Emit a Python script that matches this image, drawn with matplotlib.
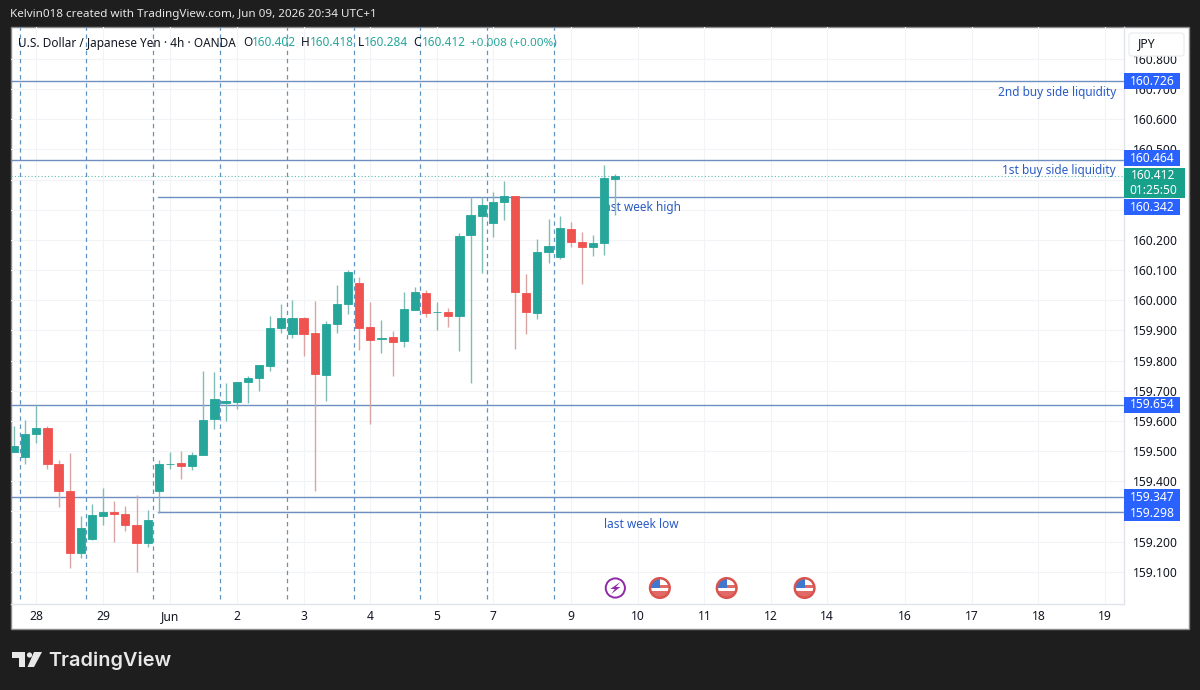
import matplotlib
matplotlib.use("Agg")
import matplotlib.pyplot as plt
from matplotlib.patches import Rectangle, FancyBboxPatch, Polygon, Circle

# ---------- data ----------
opens = [159.497,159.482,159.556,159.577,159.456,159.369,159.163,159.210,159.286,159.299,159.293,159.256,159.196,
         159.366,159.456,159.459,159.450,159.486,159.605,159.661,159.662,159.728,159.742,159.782,159.908,159.888,
         159.941,159.891,159.752,159.921,159.988,160.058,159.911,159.871,159.878,159.865,159.968,160.024,159.960,
         159.961,159.948,160.217,160.281,160.257,160.327,160.347,160.024,159.958,160.161,160.144,160.237,160.194,
         160.177,160.191,160.402]
highs = [159.582,159.602,159.652,159.582,159.472,159.492,159.286,159.323,159.379,159.333,159.319,159.356,159.303,
         159.469,159.496,159.499,159.496,159.765,159.762,159.725,159.728,159.748,159.785,159.948,159.988,160.001,
         159.945,159.998,159.931,160.051,160.101,160.078,159.995,159.935,159.898,160.028,160.044,160.034,159.995,
         159.975,160.224,160.344,160.344,160.360,160.394,160.347,160.088,160.204,160.271,160.281,160.261,160.227,
         160.217,160.450,160.418]
lows = [159.496,159.456,159.526,159.442,159.313,159.113,159.146,159.206,159.256,159.200,159.236,159.100,159.183,
        159.296,159.442,159.406,159.436,159.486,159.572,159.599,159.639,159.659,159.698,159.765,159.891,159.875,
        159.815,159.366,159.665,159.891,159.955,159.835,159.589,159.825,159.748,159.845,159.968,159.945,159.901,
        159.911,159.832,159.725,160.091,160.211,160.267,159.838,159.888,159.938,160.124,160.138,160.177,160.054,
        160.148,160.151,160.284]
closes = [159.516,159.556,159.577,159.456,159.369,159.163,159.244,159.289,159.299,159.293,159.256,159.196,159.270,
          159.456,159.458,159.450,159.487,159.602,159.672,159.665,159.728,159.742,159.785,159.908,159.941,159.941,
          159.888,159.755,159.921,159.988,160.094,159.908,159.868,159.875,159.862,159.971,160.028,159.958,159.961,
          159.948,160.214,160.284,160.317,160.327,160.347,160.028,159.961,160.161,160.181,160.241,160.194,160.177,
          160.191,160.407,160.412]
first_bar = -2
price_ticks = [160.8,160.7,160.6,160.5,160.4,160.3,160.2,160.1,160.0,159.9,159.8,159.7,159.6,159.5,159.4,159.3,159.2,159.1]
hidden_ticks = [160.4,160.3,159.3]
date_pos = [0,6,12,18,24,30,36,41,48,54,60,66,71,78,84,90,96]
date_labels = ["28","29","Jun","2","3","4","5","7","9","10","11","12","14","16","17","18","19"]
session_lines = [-1.5,4.5,10.5,16.5,22.5,28.5,34.5,40.5,46.5]
full_levels = [160.726,160.464,159.654,159.347]
week_levels = [160.342,159.298]
week_start = 10.95
level_labels = [160.726,160.464,160.342,159.654,159.347,159.298]
label_shift = [0,2,-10,0,0,-1]
last_price = 160.412
flag_events = [56,62,69]
bolt_event = 52

GREEN, RED = "#26a69a", "#ef5350"
BLUE = "#2962ff"
LINE = "#6f8fc0"
plt.rcParams["font.family"] = ["Noto Sans", "DejaVu Sans"]

fig = plt.figure(figsize=(12, 6.9), dpi=100, facecolor="#1e1e1e")
ax = fig.add_axes([11/1200, 1-604/690, 1113/1200, 577/690], zorder=2)
ov = fig.add_axes([0, 0, 1, 1], zorder=3)
bg = fig.add_axes([0, 0, 1, 1], zorder=1)
for a in (ov, bg):
    a.set_xlim(0, 1200); a.set_ylim(690, 0); a.axis("off")
ov.patch.set_alpha(0)
bg.add_patch(Rectangle((10.5, 27), 1178.5, 602, fc="white", ec="#8a8a8a", lw=1))

# ---------- main axes ----------
BAR_PX = 11.135
ax.set_xlim((11-36.3)/BAR_PX, (1124-36.3)/BAR_PX)
ax.set_ylim(158.993, 160.906)
ax.patch.set_alpha(0)
for s in ("top", "left"):
    ax.spines[s].set_visible(False)
for s in ("bottom", "right"):
    ax.spines[s].set_color("#e0e3eb"); ax.spines[s].set_linewidth(1)
ax.yaxis.tick_right()
ax.set_yticks(price_ticks, ["" if p in hidden_ticks else f"{p:.3f}" for p in price_ticks])
ax.set_xticks(date_pos, date_labels)
ax.tick_params(axis="y", length=0, pad=6.3, labelsize=8.7, labelcolor="#131722")
ax.tick_params(axis="x", length=0, pad=4.5, labelsize=8.7, labelcolor="#131722")
ax.get_xticklabels()[2].set_fontweight("bold")
ax.grid(True, color="#f1f3f6", lw=0.8)
ax.set_axisbelow(True)

for x in session_lines:
    ax.axvline(x, ymin=0.008, ymax=1, color="#5f93c4", lw=0.9, ls=(0, (3.5, 3)), zorder=1.5)
for lv in full_levels:
    ax.axhline(lv, color=LINE, lw=1, zorder=1.8)
for lv in week_levels:
    ax.plot([week_start, ax.get_xlim()[1]], [lv, lv], color=LINE, lw=1, zorder=1.8)
ax.axhline(last_price, color="#5dbdb3", lw=0.8, ls=(0, (1, 2)), zorder=1.8)

label_c = "#2a5bc4"
ax.text(96.96, 160.690, "2nd buy side liquidity", color=label_c, fontsize=8.5, ha="right", va="center", zorder=2)
ax.text(96.96, 160.430, "1st buy side liquidity", color=label_c, fontsize=8.5, ha="right", va="center", zorder=2)
ax.text(54.3, 160.307, "last week high", color=label_c, fontsize=8.5, ha="center", va="center", zorder=2)
ax.text(54.3, 159.256, "last week low", color=label_c, fontsize=8.5, ha="center", va="center", zorder=2)

# ---------- candles ----------
for k, (o, h, l, c) in enumerate(zip(opens, highs, lows, closes)):
    i = first_bar + k
    col = GREEN if c >= o else RED
    wick = "#7fbdb6" if c >= o else "#d9a5a2"
    ax.vlines(i, l, h, color=wick, lw=1.0, zorder=3)
    ax.bar(i, abs(c-o), bottom=min(o, c), width=0.74, color=col, edgecolor=col, lw=0.6, zorder=4)

# ---------- price tags ----------
ytr = ax.get_yaxis_transform()
PX_PER_PRICE = 577/1.913
for lv, sh in zip(level_labels, label_shift):
    centre = lv + sh/PX_PER_PRICE
    ax.add_patch(Rectangle((1, centre-8/PX_PER_PRICE), 56/1113, 16/PX_PER_PRICE, transform=ytr,
                           fc=BLUE, ec="none", clip_on=False, zorder=6))
    ax.text(1+28/1113, centre, f"{lv:.3f}", transform=ytr, ha="center", va="center",
            color="white", fontsize=8.7, zorder=7, clip_on=False)
last_c = last_price - 7/PX_PER_PRICE
ax.add_patch(Rectangle((1, last_c-15/PX_PER_PRICE), 61/1113, 30/PX_PER_PRICE, transform=ytr,
                       fc="#17a08a", ec="none", clip_on=False, zorder=6))
ax.text(1+29/1113, last_c, f"{last_price:.3f}\n01:25:50", transform=ytr, ha="center", va="center",
        color="white", fontsize=8.6, linespacing=1.15, zorder=7, clip_on=False)

# ---------- events ----------
fig.canvas.draw()
def to_px(i):
    return ax.transData.transform((i, 160.0))[0]
cy = 588
bx = to_px(bolt_event)
ov.add_patch(Circle((bx, cy), 9.6, fc="white", ec="#8e2aa8", lw=1.4))
ov.add_patch(Polygon([(bx+5,cy-6),(bx-5,cy+1),(bx-0.5,cy+1),(bx-4,cy+6),(bx+5,cy-1),(bx+0.5,cy-1)], fc="#8e2aa8", ec="none"))
for fx in flag_events:
    px = to_px(fx)
    ring = Circle((px, cy), 9.8, fc="white", ec="none")
    ov.add_patch(ring)
    for rect, col in [((px-10, cy-10, 10.5, 10), "#3f78cf"), ((px+0.5, cy-3, 10, 2.6), "#e26a66"), ((px-10, cy+3, 20, 8), "#e26a66")]:
        ov.add_patch(Rectangle(rect[:2], rect[2], rect[3], fc=col, ec="none", clip_path=ring))
    ov.add_patch(Circle((px, cy), 9.8, fc="none", ec="#d9534f", lw=1.8))

# ---------- overlay texts ----------
ov.text(10, 14, "Kelvin018 created with TradingView.com, Jun 09, 2026 20:34 UTC+1", color="#e6e6e6",
        fontsize=8.4, va="center", ha="left")
ov.text(18, 43, "U.S. Dollar / Japanese Yen · 4h · OANDA", color="#131722", fontsize=8.5, va="center")
for x0, lab, val in [(243, "O", "160.402"), (301, "H", "160.418"), (358, "L", "160.284"), (413, "C", "160.412")]:
    ov.text(x0, 43, lab, color="#131722", fontsize=8.5, va="center")
    ov.text(x0+(8.5 if lab != "L" else 6), 43, val, color=GREEN, fontsize=8.5, va="center")
ov.text(470, 43, "+0.008 (+0.00%)", color=GREEN, fontsize=8.4, va="center")

ov.add_patch(FancyBboxPatch((1129, 33), 55, 23, boxstyle="round,pad=0,rounding_size=3", fc="white", ec="#eceef2", lw=1, zorder=4))
ov.text(1147, 44, "JPY", color="#131722", fontsize=8.8, ha="center", va="center", zorder=5)

# logo
ov.add_patch(Polygon([(12,652),(25,652),(25,667),(19,667),(19,658),(12,658)], fc="#e8e8e8", ec="none"))
ov.add_patch(Polygon([(27.5,667),(34,652),(42,652),(34,667)], fc="#e8e8e8", ec="none"))
ov.add_patch(Circle((29.5, 655), 2.6, fc="#e8e8e8", ec="none"))
ov.text(48, 661, "TradingView", color="#e8e8e8", fontsize=14.3, fontweight="semibold", family="Inter", va="center", ha="left")

fig.savefig("out.png", dpi=100, facecolor=fig.get_facecolor())
